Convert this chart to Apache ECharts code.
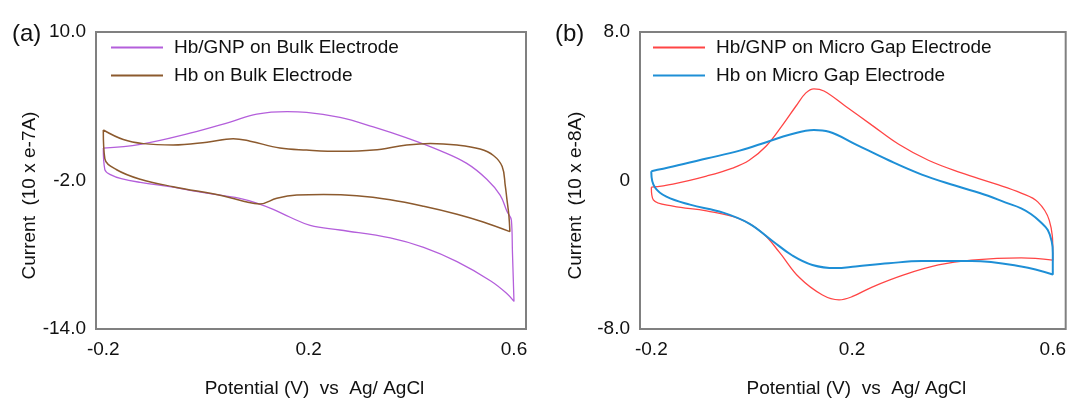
<!DOCTYPE html>
<html>
<head>
<meta charset="utf-8">
<title>Cyclic voltammograms</title>
<script src="https://cdn.jsdelivr.net/npm/echarts@6/dist/echarts.min.js"></script>
<style>
    html, body { margin: 0; padding: 0; background: #fff; }
    #cv_chart { width: 1069px; height: 403px; }
</style>
</head>
<body>
<div id="cv_chart"></div>
<script>

// Chart data
// ------------------------------

// Tick labels
var potentialTicks = [-0.2, 0.2, 0.6];
var bulkCurrentTicks = [-14, -2, 10];
var microCurrentTicks = [-8, 0, 8];

// (a) Hb/GNP on bulk electrode: potential (V) and current (10 x e-7A)
var gnpBulkV = [-0.200, -0.128, -0.031, 0.047, 0.099, 0.158, 0.196, 0.261, 0.326, 0.391, 0.456, 0.508, 0.547, 0.573, 0.586, 0.595, 0.597, 0.600,
    0.586, 0.554, 0.489, 0.424, 0.359, 0.261, 0.203, 0.164, 0.131, 0.099, 0.066, 0.034, -0.031, -0.064, -0.128, -0.165, -0.185, -0.197, -0.200];
var gnpBulkI = [0.62, 0.92, 1.82, 2.72, 3.36, 3.56, 3.51, 3.10, 2.33, 1.44, 0.41, -0.62, -1.90, -3.18, -4.46, -5.23, -7.79, -11.77,
    -11.13, -10.10, -8.56, -7.41, -6.64, -6.00, -5.62, -4.97, -4.33, -3.82, -3.44, -3.23, -2.79, -2.54, -2.15, -1.85, -1.55, -1.13, 0.62];

// (a) Hb on bulk electrode
var hbBulkV = [-0.200, -0.161, -0.122, -0.064, 0.002, 0.053, 0.086, 0.144, 0.196, 0.261, 0.326, 0.391, 0.437, 0.489, 0.534, 0.560, 0.577, 0.583, 0.586, 0.590, 0.592,
    0.540, 0.489, 0.424, 0.359, 0.294, 0.229, 0.177, 0.138, 0.105, 0.075, 0.034, -0.064, -0.128, -0.174, -0.197, -0.200];
var hbBulkI = [2.08, 1.31, 0.98, 0.87, 1.10, 1.38, 1.18, 0.62, 0.46, 0.36, 0.46, 0.87, 1.00, 0.87, 0.54, 0.02, -0.87, -2.41, -3.44, -4.80, -6.13,
    -5.35, -4.72, -4.08, -3.56, -3.23, -3.13, -3.18, -3.44, -3.90, -3.70, -3.25, -2.50, -1.90, -1.13, -0.23, 2.08];

// (b) Hb/GNP on micro gap electrode: potential (V) and current (10 x e-8A)
var gnpMicroV = [-0.200, -0.157, -0.090, -0.038, -0.005, 0.029, 0.061, 0.088, 0.108, 0.124, 0.144, 0.187, 0.240, 0.293, 0.352, 0.418, 0.484, 0.537, 0.570, 0.593, 0.600, 0.600,
    0.537, 0.438, 0.372, 0.306, 0.240, 0.200, 0.174, 0.141, 0.095, 0.055, 0.022, -0.024, -0.090, -0.157, -0.196, -0.200];
var gnpMicroI = [-0.36, -0.19, 0.24, 0.67, 1.09, 1.86, 2.97, 4.00, 4.72, 4.94, 4.82, 4.00, 2.97, 1.95, 1.09, 0.41, -0.17, -0.68, -1.15, -2.15, -3.86, -4.29,
    -4.17, -4.29, -4.55, -5.06, -5.74, -6.26, -6.43, -6.17, -5.23, -3.86, -2.84, -2.07, -1.64, -1.38, -1.04, -0.36];

// (b) Hb on micro gap electrode
var hbMicroV = [-0.200, -0.157, -0.090, -0.024, 0.032, 0.075, 0.124, 0.154, 0.207, 0.273, 0.339, 0.405, 0.471, 0.505, 0.537, 0.557, 0.575, 0.590, 0.598, 0.600, 0.600, 0.600,
    0.537, 0.438, 0.339, 0.273, 0.207, 0.167, 0.121, 0.081, 0.042, -0.005, -0.057, -0.123, -0.170, -0.193, -0.200, -0.200];
var hbMicroI = [0.50, 0.75, 1.18, 1.61, 2.09, 2.46, 2.72, 2.63, 1.95, 1.09, 0.32, -0.27, -0.82, -1.18, -1.50, -1.82, -2.22, -2.67, -3.30, -3.90, -4.60, -5.06,
    -4.63, -4.34, -4.34, -4.46, -4.63, -4.72, -4.55, -4.04, -3.27, -2.32, -1.73, -1.30, -0.87, -0.36, 0.41, 0.50];


// Setup chart
// ------------------------------

var fontFamily = 'Arial, "Liberation Sans", sans-serif';
var textColor = '#111';
var frameColor = '#808080';

// Pair potential and current into [x, y] points
var zip = function(xs, ys) {
    return xs.map(function(x, i) { return [x, ys[i]]; });
};

var tickText = function(v) {
    return v === 0 ? '0' : v.toFixed(1);
};

var makeXAxis = function(gridIndex, min, max) {
    return {
        gridIndex: gridIndex,
        type: 'value',
        min: min,
        max: max,
        axisLine: { show: false },
        axisTick: { show: false },
        splitLine: { show: false },
        axisLabel: {
            customValues: potentialTicks,
            formatter: tickText,
            margin: 11,
            color: textColor,
            fontSize: 19,
            fontFamily: fontFamily
        },
        name: 'Potential (V)  vs  Ag/ AgCl',
        nameLocation: 'middle',
        nameGap: 50,
        nameTextStyle: { color: textColor, fontSize: 19, fontFamily: fontFamily, padding: [0, 0, 0, 7] }
    };
};

var makeYAxis = function(gridIndex, ticks, title, nameGap) {
    return {
        gridIndex: gridIndex,
        type: 'value',
        min: ticks[0],
        max: ticks[ticks.length - 1],
        interval: ticks[1] - ticks[0],
        axisLine: { show: false },
        axisTick: { show: false },
        splitLine: { show: false },
        axisLabel: {
            formatter: tickText,
            margin: 10,
            color: textColor,
            fontSize: 19,
            fontFamily: fontFamily
        },
        name: title,
        nameLocation: 'middle',
        nameGap: nameGap,
        // shift the rotated title a little below the middle, as in the figure
        nameTextStyle: { color: textColor, fontSize: 19, fontFamily: fontFamily, padding: [0, 30, 0, 0] }
    };
};

var makeLegend = function(left, names) {
    return {
        orient: 'vertical',
        left: left,
        top: 38,
        padding: 0,
        itemWidth: 52,
        itemHeight: 2,
        itemGap: 9,
        icon: 'rect',
        data: names,
        textStyle: { color: textColor, fontSize: 19, fontFamily: fontFamily, padding: [0, 0, 0, 6] }
    };
};

var makeSeries = function(name, idx, data, color, width) {
    return {
        name: name,
        type: 'line',
        xAxisIndex: idx,
        yAxisIndex: idx,
        data: data,
        smooth: 0.4,
        symbol: 'none',
        color: color,
        lineStyle: { color: color, width: width }
    };
};

var cv_element = document.getElementById('cv_chart');
var cv_chart = echarts.init(cv_element, null, { renderer: 'canvas' });

cv_chart.setOption({
    backgroundColor: '#fff',
    animation: false,
    textStyle: { fontFamily: fontFamily },

    // Panel letters
    title: [
        { text: '(a)', left: 12, top: 22, padding: 0, textStyle: { color: textColor, fontSize: 24, fontWeight: 'normal', fontFamily: fontFamily } },
        { text: '(b)', left: 555, top: 22, padding: 0, textStyle: { color: textColor, fontSize: 24, fontWeight: 'normal', fontFamily: fontFamily } }
    ],

    grid: [
        { left: 96, top: 32, width: 430, height: 312, show: true, borderColor: frameColor, borderWidth: 2 },
        { left: 640, top: 32, width: 427, height: 312, show: true, borderColor: frameColor, borderWidth: 2 }
    ],

    legend: [
        makeLegend(111, ['Hb/GNP on Bulk Electrode', 'Hb on Bulk Electrode']),
        makeLegend(653, ['Hb/GNP on Micro Gap Electrode', 'Hb on Micro Gap Electrode'])
    ],

    xAxis: [
        makeXAxis(0, -0.2142, 0.6234),
        makeXAxis(1, -0.2226, 0.6257)
    ],

    yAxis: [
        makeYAxis(0, bulkCurrentTicks, 'Current  (10 x e-7A)', 50),
        makeYAxis(1, microCurrentTicks, 'Current  (10 x e-8A)', 55)
    ],

    series: [
        makeSeries('Hb/GNP on Bulk Electrode', 0, zip(gnpBulkV, gnpBulkI), '#B45FDB', 1.3),
        makeSeries('Hb on Bulk Electrode', 0, zip(hbBulkV, hbBulkI), '#8C5A2E', 1.5),
        makeSeries('Hb/GNP on Micro Gap Electrode', 1, zip(gnpMicroV, gnpMicroI), '#FF4545', 1.3),
        makeSeries('Hb on Micro Gap Electrode', 1, zip(hbMicroV, hbMicroI), '#1E8FD6', 2)
    ]
});

</script>
</body>
</html>
